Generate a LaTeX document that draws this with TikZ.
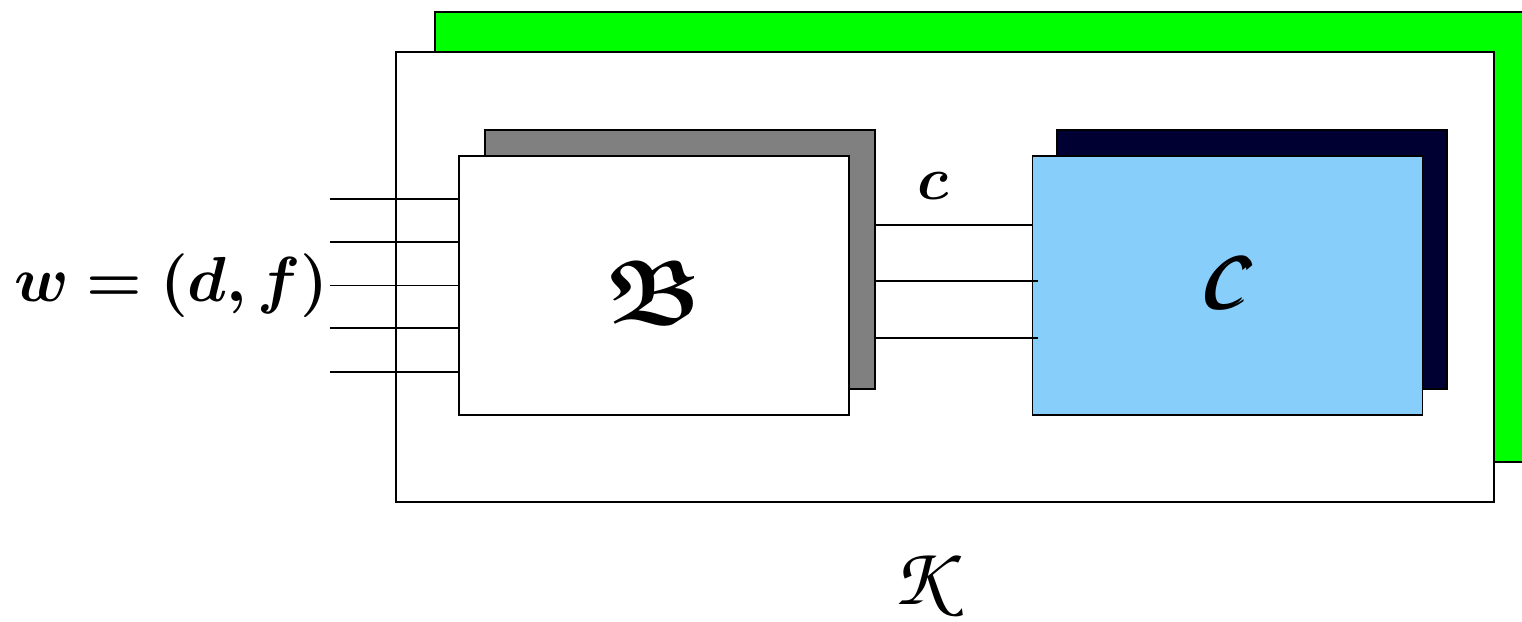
\documentclass[tikz,border=0pt]{standalone}
\usepackage{fix-cm}
\usepackage{amsmath,amssymb,bm}
\DeclareMathAlphabet{\mathpzc}{OT1}{pzc}{m}{it}
\usetikzlibrary{positioning}

\begin{document}
\begin{tikzpicture}[
  box/.style={draw, minimum width=3.9cm, minimum height=2.59cm, inner sep=0pt},
  frame/.style={draw, minimum width=10.98cm, minimum height=4.5cm, inner sep=0pt},
  wire/.style={draw, line width=0.5pt}]

\definecolor{framecolor}{RGB}{0, 255, 0}
\definecolor{bshadecolor}{RGB}{128, 128, 128}
\definecolor{cshadecolor}{RGB}{0, 0, 51}
\definecolor{cboxcolor}{RGB}{135, 206, 250}

\useasboundingbox (0, 0) rectangle (15.22, -6.22);

\node[frame, fill=framecolor] (Ksh) at (9.84, -2.37) {};
\node[frame, fill=white] (K) at (9.45, -2.77) {};

\foreach \i/\y in {1/-1.99, 2/-2.42, 3/-2.855, 4/-3.28, 5/-3.72}
  \coordinate (in\i) at (3.30, \y);

\node[box, fill=bshadecolor] (Bsh) at (6.80, -2.595) {};
\foreach \i in {1,...,5}
  \draw[wire] (in\i) -- (in\i -| Bsh.west);
\node[box, fill=white, font=\fontsize{26}{31}\selectfont] (B) at (6.54, -2.855) {\raisebox{-0.06cm}[\height][\depth]{$\boldsymbol{\mathfrak{B}}$}};

\node[box, fill=cshadecolor] (Csh) at (12.52, -2.595) {};
\node[box, fill=cboxcolor, font=\fontsize{22.5}{27}\selectfont, right=1.82cm of B] (C) {\raisebox{0.06cm}[\height][\depth]{$\pmb{\mathpzc{C}}$}};

\coordinate (out1) at (8.75, -2.25);
\coordinate (out2) at (8.75, -2.81);
\coordinate (out3) at (8.75, -3.38);
\draw[wire] (out1) -- (out1 -| C.west);
\draw[wire, shorten >=-0.06cm] (out2) -- (out2 -| C.west);
\draw[wire, shorten >=-0.06cm] (out3) -- (out3 -| C.west);

\node[font=\fontsize{18.1}{22}\selectfont, left=-0.11cm of in3] (w) {$\boldsymbol{w = (d, f)}$};
\node[font=\LARGE] (c) at (9.33, -1.86) {$\boldsymbol{c}$};
\node[font=\fontsize{24}{29}\selectfont] (Klabel) at (9.27, -5.85) {$\mathpzc{K}$};

\end{tikzpicture}
\end{document}
